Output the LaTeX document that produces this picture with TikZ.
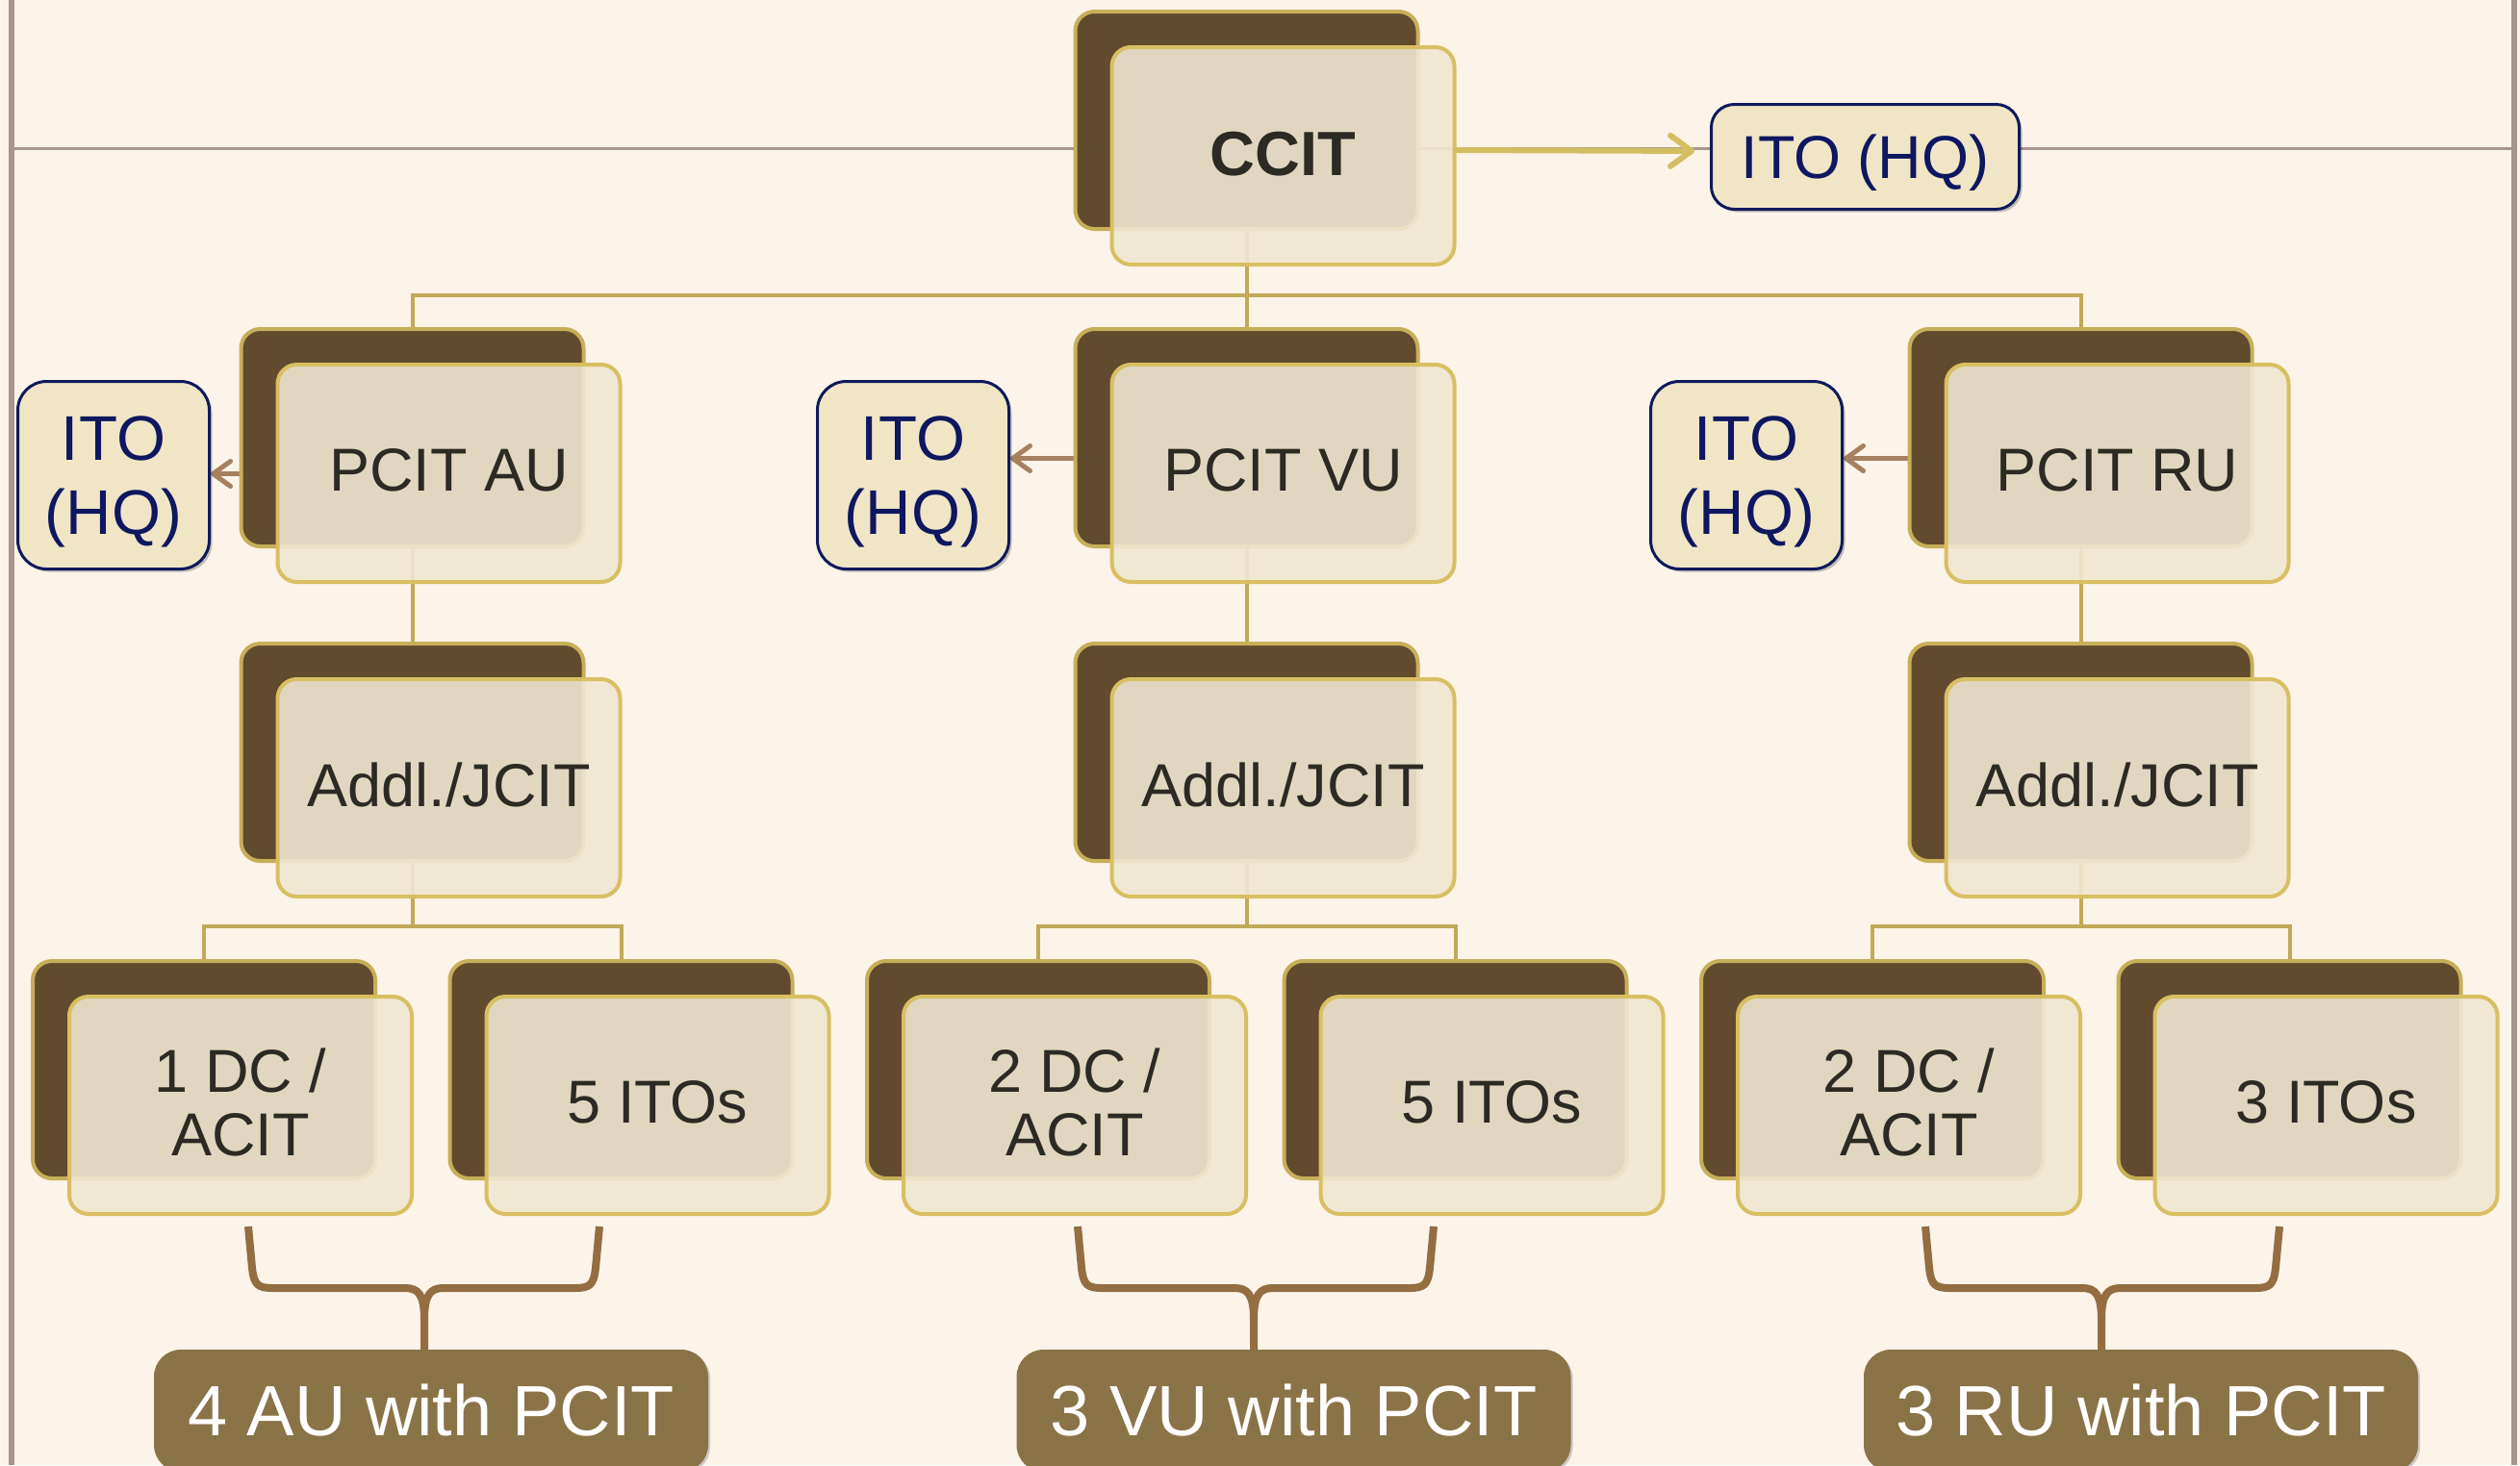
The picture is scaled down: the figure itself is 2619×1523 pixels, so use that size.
\documentclass[tikz,border=0pt]{standalone}
\usepackage{fontspec}
\setmainfont{Liberation Sans}
\usetikzlibrary{arrows.meta,shadows,calc}

\pgfdeclarelayer{bg}
\pgfdeclarelayer{conn}
\pgfsetlayers{bg,conn,main}

\definecolor{pagebg}{HTML}{FCF3E9}
\definecolor{rulecol}{HTML}{A8958B}
\definecolor{backfill}{HTML}{624A2E}
\definecolor{backedge}{HTML}{C8AE59}
\definecolor{frontfill}{HTML}{EFE7D1}
\definecolor{frontedge}{HTML}{D9BF62}
\definecolor{linkcol}{HTML}{C2A957}
\definecolor{itofill}{HTML}{F0E6C6}
\definecolor{itoedge}{HTML}{0E1A5C}
\definecolor{itotext}{HTML}{0E1760}
\definecolor{boxtext}{HTML}{2B2A24}
\definecolor{hqarrow}{HTML}{D5BD62}
\definecolor{subarrow}{HTML}{A6805F}
\definecolor{bracecol}{HTML}{946D40}
\definecolor{labelfill}{HTML}{8B7348}

% move a line of text vertically without changing its reported size
\newcommand\nudge[2]{\raisebox{#1}[\height][\depth]{#2}}
\newcommand\up[1]{\nudge{1.75pt}{#1}}
\newcommand\dn[1]{\nudge{-3.5pt}{#1}}

% back plate + translucent front card, named #1-b and #1
\newcommand\unitpair[4]{%
  \node[backbox] (#1-b) at (#2,#3) {};
  \node[frontbox] (#1) at ($(#1-b.north west)+(19pt,-18.5pt)$) {#4};
}
% curly brace under a pair of cards: left arm, stem, right arm
\newcommand\unitbrace[3]{%
  \draw[bracestyle] (#1,1275) -- (#1+4,1318)
    .. controls (#1+6,1336) and (#1+10,1339) .. (#1+26,1339)
    -- (#2-20,1339) .. controls (#2-6,1339) and (#2,1346) .. (#2,1372) -- (#2,1404);
  \draw[bracestyle] (#3,1275) -- (#3-4,1318)
    .. controls (#3-6,1336) and (#3-10,1339) .. (#3-26,1339)
    -- (#2+20,1339) .. controls (#2+6,1339) and (#2,1346) .. (#2,1372);
}

\begin{document}
\begin{tikzpicture}[x=0.5pt,y=-0.5pt,
  backbox/.style={draw=backedge, fill=backfill, line width=2pt, rounded corners=10pt,
    minimum width=178pt, minimum height=113pt, inner sep=0pt, anchor=north west},
  frontbox/.style={draw=frontedge, fill=frontfill, fill opacity=0.9, text opacity=1,
    line width=2pt, rounded corners=10pt, minimum width=178pt, minimum height=113pt,
    inner sep=0pt, anchor=north west, text=boxtext, align=center,
    font=\fontsize{31.5}{33}\selectfont},
  itobox/.style={draw=itoedge, fill=itofill, line width=1.5pt, text=itotext,
    align=center, inner sep=0pt, anchor=north west,
    drop shadow={shadow xshift=1.5pt, shadow yshift=-1.5pt, opacity=0.22, fill=black}},
  smallito/.style={itobox, rounded corners=15pt, minimum width=99.5pt, minimum height=97.5pt,
    font=\fontsize{32.8}{38.5}\selectfont},
  labelbox/.style={fill=labelfill, rounded corners=14pt, minimum width=288pt,
    minimum height=63.5pt, inner sep=0pt, text=white, font=\fontsize{37}{40}\selectfont,
    drop shadow={shadow xshift=1pt, shadow yshift=-1pt, opacity=0.18, fill=black}},
  link/.style={draw=linkcol, line width=2pt},
  subarr/.style={draw=subarrow, line width=2.5pt,
    -{Straight Barb[length=9pt,width=13pt,round]}},
  hqarr/.style={draw=hqarrow, line width=3pt,
    -{Straight Barb[length=11pt,width=16pt,round]}},
  bracestyle/.style={draw=bracecol, line width=4pt, line join=round}
]
\useasboundingbox (0,0) rectangle (2619,1523);

% page and frame rules
\begin{pgfonlayer}{bg}
  \fill[pagebg] (0,0) rectangle (2619,1523);
  \draw[rulecol, line width=3pt] (12,0) -- (12,1523);
  \draw[rulecol, line width=3pt] (2613,0) -- (2613,1523);
  \draw[rulecol, line width=1.5pt] (12,154.5) -- (2613,154.5);
\end{pgfonlayer}

% top level
\unitpair{ccit}{1115.5}{10}{\fontsize{32.5}{34}\selectfont\bfseries\nudge{1pt}{CCIT}}
\node[itobox, rounded corners=12pt, minimum width=160pt, minimum height=54.5pt,
  font=\fontsize{31.5}{34}\selectfont] (itotop) at (1777,107) {\nudge{-3pt}{ITO (HQ)}};

% second level
\unitpair{pau}{248.5}{340}{\up{PCIT AU}}
\unitpair{pvu}{1115.5}{340}{\up{PCIT VU}}
\unitpair{pru}{1982.5}{340}{\up{PCIT RU}}
\node[smallito] (itoau) at (17,395) {\dn{ITO}\\\dn{(HQ)}};
\node[smallito] (itovu) at (848,395) {\dn{ITO}\\\dn{(HQ)}};
\node[smallito] (itoru) at (1714,395) {\dn{ITO}\\\dn{(HQ)}};

% third level
\unitpair{aau}{248.5}{667}{\up{Addl./JCIT}}
\unitpair{avu}{1115.5}{667}{\up{Addl./JCIT}}
\unitpair{aru}{1982.5}{667}{\up{Addl./JCIT}}

% fourth level
\unitpair{dau}{32}{997}{\up{1 DC /}\\\up{ACIT}}
\unitpair{iau}{465.5}{997}{\up{5 ITOs}}
\unitpair{dvu}{899}{997}{\up{2 DC /}\\\up{ACIT}}
\unitpair{ivu}{1332.5}{997}{\up{5 ITOs}}
\unitpair{dru}{1766}{997}{\up{2 DC /}\\\up{ACIT}}
\unitpair{iru}{2199.5}{997}{\up{3 ITOs}}

% group braces and summary labels
\unitbrace{258}{441}{623}
\unitbrace{1120}{1303}{1490}
\unitbrace{2001}{2184}{2369}
\node[labelbox] (lau) at (448,1466.5) {4 AU with PCIT};
\node[labelbox] (lvu) at (1344.5,1466.5) {3 VU with PCIT};
\node[labelbox] (lru) at (2225,1466.5) {3 RU with PCIT};

% connectors
\coordinate (busA) at (0,307);
\coordinate (busB) at (0,963);
\begin{pgfonlayer}{conn}
  \draw[link] (ccit-b.south) -- (ccit-b.south |- busA);
  \draw[link] (pau-b.north) -- (pau-b.north |- busA) -- (pru-b.north |- busA) -- (pru-b.north);
  \draw[link] (pvu-b.north) -- (pvu-b.north |- busA);
  \draw[link] (pau-b.south) -- (aau-b.north);
  \draw[link] (pvu-b.south) -- (avu-b.north);
  \draw[link] (pru-b.south) -- (aru-b.north);
  \draw[link] (aau-b.south) -- (aau-b.south |- busB);
  \draw[link] (dau-b.north) -- (dau-b.north |- busB) -- (iau-b.north |- busB) -- (iau-b.north);
  \draw[link] (avu-b.south) -- (avu-b.south |- busB);
  \draw[link] (dvu-b.north) -- (dvu-b.north |- busB) -- (ivu-b.north |- busB) -- (ivu-b.north);
  \draw[link] (aru-b.south) -- (aru-b.south |- busB);
  \draw[link] (dru-b.north) -- (dru-b.north |- busB) -- (iru-b.north |- busB) -- (iru-b.north);
  \draw[hqarr, shorten >=8pt] ($(ccit.east)+(-2pt,3pt)$) -- ($(itotop.west)+(0,3pt)$);
  \draw[subarr] ($(pau-b.west |- itoau.east)+(0,0.75pt)$) -- ($(itoau.east)+(0,0.75pt)$);
  \draw[subarr] ($(pvu-b.west |- itovu.east)+(0,8.75pt)$) -- ($(itovu.east)+(0,8.75pt)$);
  \draw[subarr] ($(pru-b.west |- itoru.east)+(0,8.75pt)$) -- ($(itoru.east)+(0,8.75pt)$);
\end{pgfonlayer}
\end{tikzpicture}
\end{document}
